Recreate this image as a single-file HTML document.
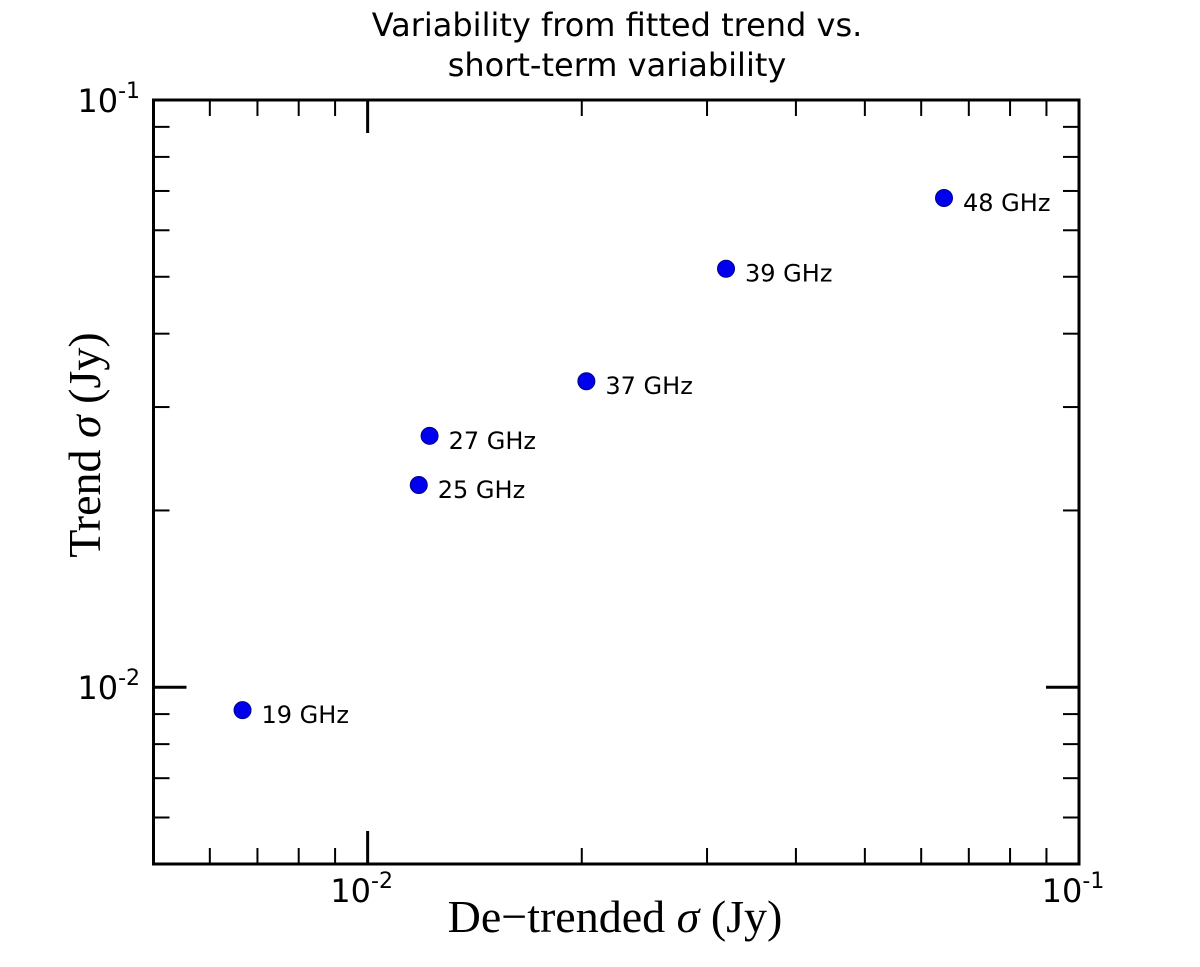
<!DOCTYPE html>
<html><head><meta charset="utf-8"><style>
body{margin:0;background:#fff;}
svg text{font-family:"DejaVu Sans","Liberation Sans",sans-serif;}
</style></head><body>
<svg id="chart" width="1200" height="962" xmlns="http://www.w3.org/2000/svg">
<rect width="1200" height="962" fill="#fff"/>
<text x="617" y="36" font-size="32" text-anchor="middle">Variability from fitted trend vs.</text>
<text x="617" y="76" font-size="32" text-anchor="middle">short-term variability</text>
<g id="ticks"></g>
<g id="points"></g>
<rect x="153.5" y="100" width="925.5" height="764" fill="none" stroke="#000" stroke-width="3"/>
<text x="615" y="932" font-size="46" text-anchor="middle" style="font-family:'Liberation Serif',serif">De−trended <tspan font-style="italic">σ</tspan> (Jy)</text>
<text transform="translate(100,445) rotate(-90)" font-size="46" text-anchor="middle" style="font-family:'Liberation Serif',serif">Trend <tspan font-style="italic">σ</tspan> (Jy)</text>
</svg>
<script>
const labels=["19 GHz","25 GHz","27 GHz","37 GHz","39 GHz","48 GHz"];
const xValues=[0.00667,0.0118,0.01222,0.0203,0.0319,0.0646];
const yValues=[0.00914,0.0221,0.0268,0.0332,0.0516,0.0681];
const xMin=0.005,xMax=0.1,yMin=0.005,yMax=0.1;
const L=153.5,R=1079,T=100,B=864;
const NS="http://www.w3.org/2000/svg";
function sx(v){return L+(Math.log10(v)-Math.log10(xMin))/(Math.log10(xMax)-Math.log10(xMin))*(R-L);}
function sy(v){return B-(Math.log10(v)-Math.log10(yMin))/(Math.log10(yMax)-Math.log10(yMin))*(B-T);}
function mk(tag,attrs,parent){const e=document.createElementNS(NS,tag);for(const k in attrs)e.setAttribute(k,attrs[k]);parent.appendChild(e);return e;}
const tg=document.getElementById('ticks');
const tickVals=[];
for(const d of [0.001,0.01])for(let m=1;m<10;m++)tickVals.push(d*m);
tickVals.push(0.1);
tickVals.forEach(v=>{
  const major=Math.abs(Math.log10(v)-Math.round(Math.log10(v)))<1e-9;
  const len=major?33:16;const w=major?3:2;
  if(v>=xMin-1e-12&&v<=xMax+1e-12){const x=sx(v);
    const a=mk('line',{x1:x,x2:x,y1:B,y2:B-len,stroke:'#000','stroke-width':w},tg);
    
    const b=mk('line',{x1:x,x2:x,y1:T,y2:T+len,stroke:'#000','stroke-width':w},tg);
    
    if(major&&v>xMin*1.01){const t=mk('text',{x:x-6,y:902,'font-size':32,'text-anchor':'middle'},tg);
      t.innerHTML='10<tspan dy="-14" font-size="22">'+Math.round(Math.log10(v))+'</tspan>';
      }
  }
  if(v>=yMin-1e-12&&v<=yMax+1e-12){const y=sy(v);
    const a=mk('line',{y1:y,y2:y,x1:L,x2:L+len,stroke:'#000','stroke-width':w},tg);
    
    const b=mk('line',{y1:y,y2:y,x1:R,x2:R-len,stroke:'#000','stroke-width':w},tg);
    
    if(major&&v>yMin*1.01){const t=mk('text',{x:140,y:y+12,'font-size':32,'text-anchor':'end'},tg);
      t.innerHTML='10<tspan dy="-14" font-size="22">'+Math.round(Math.log10(v))+'</tspan>';
      }
  }
});
const pg=document.getElementById('points');
labels.forEach((lab,i)=>{
  const x=sx(xValues[i]),y=sy(yValues[i]);
  const c=mk('circle',{cx:x,cy:y,r:8.5,fill:'#0000ee',stroke:'#00008b','stroke-width':1},pg);
  
  const t=mk('text',{x:x+19,y:y+13,'font-size':24},pg);t.textContent=lab;
  
});
</script>
</body></html>
